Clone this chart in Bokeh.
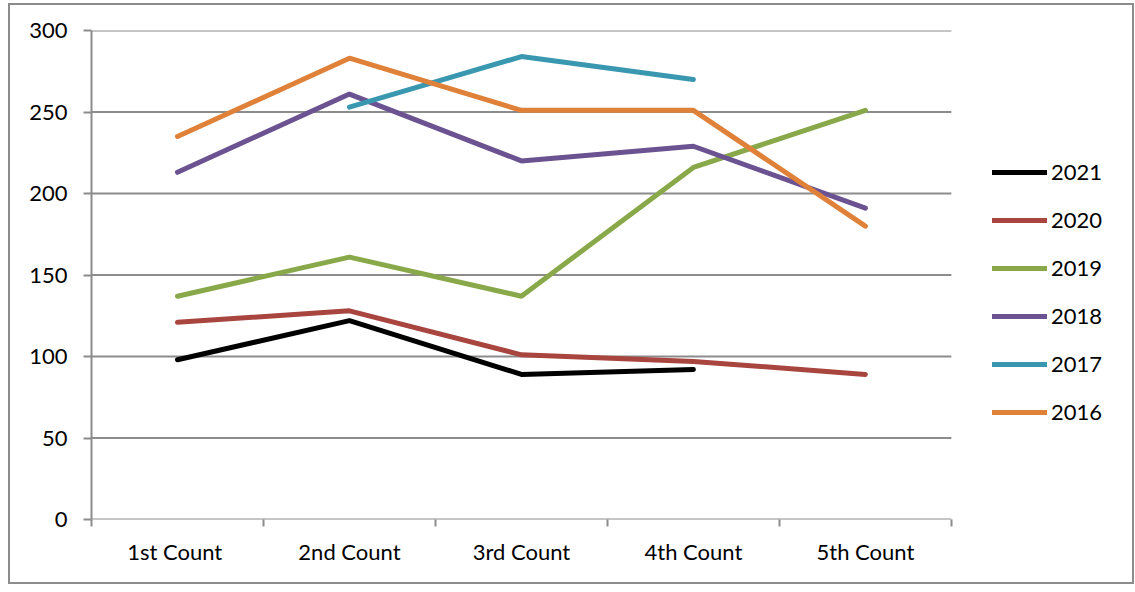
import math
from bokeh.plotting import figure
from bokeh.models import FixedTicker, Legend, LegendItem, Range1d
from bokeh.embed import file_html
from bokeh.resources import INLINE

nan = float("nan")
categories = ["1st  Count", "2nd Count", "3rd Count", "4th Count", "5th Count"]
years = ["2021", "2020", "2019", "2018", "2017", "2016"]
s2021 = [98, 122, 89, 92, nan]
s2020 = [121, 128, 101, 97, 89]
s2019 = [137, 161, 137, 216, 251]
s2018 = [213, 261, 220, 229, 191]
s2017 = [nan, 253, 284, 270, nan]
s2016 = [235, 283, 251, 251, 180]
series = [s2021, s2020, s2019, s2018, s2017, s2016]
colors = ["#000000", "#A8453F", "#89A84A", "#6B5290", "#3A97B0", "#E0813A"]
y_ticks = [0, 50, 100, 150, 200, 250, 300]

FONT = "Lato"
GRAY = "#8c8c8c"
n = len(categories)

# frame extends to the right to host the legend; x data area is 0..n
p = figure(width=1126, height=581, output_backend="svg", toolbar_location=None,
           x_range=Range1d(0, 6.03), y_range=Range1d(0, 300),
           min_border_left=81, min_border_right=8, min_border_top=25,
           min_border_bottom=67)
p.outline_line_color = None
p.styles = {"border": "2px solid #8c8c8c", "box-sizing": "border-box",
            "margin": "3px 0 0 8px"}

# horizontal gridlines only across the category area
p.xgrid.grid_line_color = None
p.ygrid.grid_line_color = None
p.segment(x0=[0] * len(y_ticks), x1=[n] * len(y_ticks), y0=y_ticks, y1=y_ticks,
          line_color=GRAY, line_width=2)

xs = [i + 0.5 for i in range(n)]
items = []
for name, vals, col in zip(years, series, colors):
    r = p.line(xs, vals, line_color=col, line_width=5, line_cap="round")
    items.append(LegendItem(label=name, renderers=[r]))

yax = p.yaxis[0]
yax.ticker = FixedTicker(ticks=y_ticks)
yax.axis_line_color = GRAY
yax.axis_line_width = 2
yax.major_tick_line_color = GRAY
yax.major_tick_line_width = 2
yax.major_tick_in = 0
yax.major_tick_out = 8
yax.minor_tick_line_color = None
yax.major_label_standoff = 16
yax.major_label_text_font = FONT
yax.major_label_text_font_size = "22px"
yax.major_label_text_color = "#000000"

xax = p.xaxis[0]
xax.ticker = FixedTicker(ticks=xs, minor_ticks=list(range(n + 1)))
xax.major_label_overrides = {x: c for x, c in zip(xs, categories)}
xax.axis_line_color = None
xax.major_tick_line_color = None
xax.major_tick_out = 0
xax.major_tick_in = 0
xax.minor_tick_line_color = GRAY
xax.minor_tick_line_width = 2
xax.minor_tick_in = 0
xax.minor_tick_out = 7
xax.major_label_standoff = 11
xax.major_label_text_font = FONT
xax.major_label_text_font_size = "22px"
xax.major_label_text_color = "#000000"

legend = Legend(items=items, location=(901, 94), orientation="vertical")
legend.border_line_color = None
legend.background_fill_alpha = 0
legend.padding = 0
legend.margin = 0
legend.spacing = 21
legend.glyph_width = 55
legend.glyph_height = 20
legend.label_height = 20
legend.label_standoff = 4
legend.label_text_font = FONT
legend.label_text_font_size = "22px"
legend.label_text_color = "#000000"
p.add_layout(legend, "center")

open("out.html", "w").write(file_html(p, INLINE))
